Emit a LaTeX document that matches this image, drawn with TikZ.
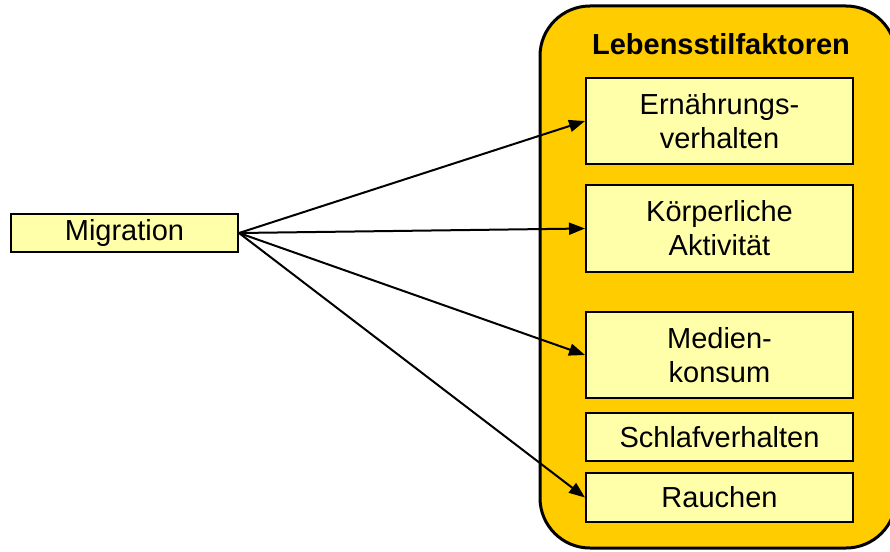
\documentclass[tikz,border=0pt]{standalone}
\usepackage{fontspec}
\setmainfont{Liberation Sans}
\usetikzlibrary{arrows.meta}
\definecolor{outerfill}{HTML}{FFCC00}
\definecolor{innerfill}{HTML}{FFFFAA}
\tikzset{
  factor/.style={draw=black, line width=2pt, fill=innerfill, minimum width=267pt, align=center, inner sep=0pt, font=\fontsize{29}{34}\selectfont},
  link/.style={draw=black, line width=2pt, -{Triangle[length=16pt,width=12pt]}, shorten >=0pt}
}
\begin{document}
\begin{tikzpicture}[x=1pt,y=-1pt]
\useasboundingbox (0,0) rectangle (890,551);
\path[fill=white] (0,0) rectangle (890,551);
\node[draw=black, line width=3pt, fill=outerfill, rounded corners=50pt, minimum width=356pt, minimum height=542pt, inner sep=0pt] (frame) at (718,277) {};
\node[font=\fontsize{29}{34}\selectfont\bfseries] (title) at (721,44) {Lebensstilfaktoren};
\node[factor, minimum height=86pt] (ern) at (719.5,121) {Ernährungs-\\verhalten};
\node[factor, minimum height=87pt] (koerp) at (719.5,228.5) {Körperliche\\Aktivität};
\node[factor, minimum height=86pt] (medien) at (719.5,355) {Medien-\\konsum};
\node[factor, minimum height=48pt] (schlaf) at (719.5,437) {Schlafverhalten};
\node[factor, minimum height=49pt] (rauchen) at (719.5,497.5) {Rauchen};
\node[factor, minimum width=227pt, minimum height=38pt] (mig) at (124.5,233) {Migration};
\draw[link] (mig.east) -- (ern.west);
\draw[link] (mig.east) -- (koerp.west);
\draw[link] (mig.east) -- (medien.west);
\draw[link] (mig.east) -- (rauchen.west);
\end{tikzpicture}
\end{document}
